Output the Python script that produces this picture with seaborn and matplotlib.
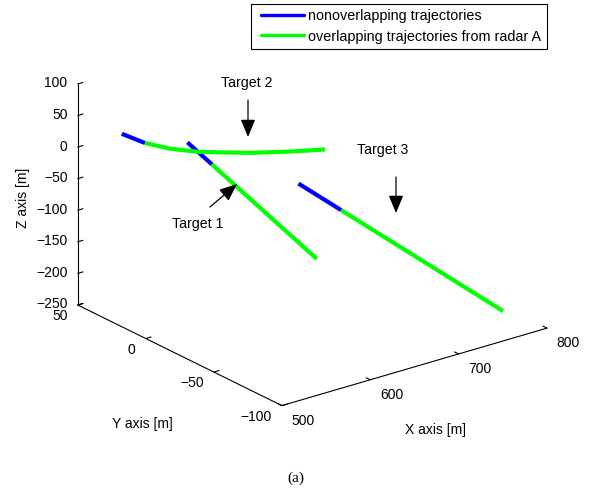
import matplotlib
matplotlib.use('Agg')
import numpy as np
import matplotlib.pyplot as plt
import seaborn as sns
from matplotlib.lines import Line2D
from matplotlib.legend_handler import HandlerLine2D
from matplotlib.patches import FancyArrowPatch
from matplotlib.transforms import ScaledTranslation
from mpl_toolkits.mplot3d import proj3d

sns.set_style('white')
plt.rcParams['font.family'] = ['Liberation Sans', 'DejaVu Sans']
plt.rcParams['font.size'] = 10
for k in ['text.color', 'axes.labelcolor', 'xtick.color', 'ytick.color']:
    plt.rcParams[k] = 'black'

# ---------------- data ----------------
# Target 1 (first `split` segment = nonoverlapping, rest = overlapping)
t1_x = [584.7, 604.8, 690.8]
t1_y = [24.4, 19.4, -1.8]
t1_z = [0.0, -37.8, -200.0]
t1_split = 1
# Target 2
t2_x = [541.4, 544.6, 554.2, 570.8, 605.1, 635.5, 663.3]
t2_y = [44.5, 29.5, 17.3, 6.1, -8.5, -18.2, -25.8]
t2_z = [10.0, 10.0, 10.0, 10.0, 10.0, 10.0, 10.0]
t2_split = 1
# Target 3
t3_x = [658.9, 681.3, 766.1]
t3_y = [-9.0, -25.9, -89.7]
t3_z = [-60.0, -93.4, -220.0]
t3_split = 1

x_ticks = [500, 600, 700, 800]
y_ticks = [-100, -50, 0, 50]
z_ticks = [-250, -200, -150, -100, -50, 0, 50, 100]
series_labels = ['nonoverlapping trajectories',
                 'overlapping trajectories from radar A']
target_names = ['Target 1', 'Target 2', 'Target 3']

blue, green = sns.color_palette(['#0000ff', '#00ff00'])

W, H = 591, 500
fig = plt.figure(figsize=(W / 100, H / 100), dpi=100, facecolor='white')
ax = fig.add_axes([0.0, 0.0, 1.0, 1.0], projection='3d', proj_type='ortho')
ax.set_facecolor('white')
ax.view_init(elev=22.3, azim=-127.6)
ax.set_box_aspect((1, 1, 0.714))

for xs, ys, zs, s in [(t1_x, t1_y, t1_z, t1_split),
                      (t2_x, t2_y, t2_z, t2_split),
                      (t3_x, t3_y, t3_z, t3_split)]:
    ax.plot(xs[:s + 1], ys[:s + 1], zs[:s + 1], color=blue, lw=3.0,
            solid_capstyle='butt')
    ax.plot(xs[s:], ys[s:], zs[s:], color=green, lw=3.0,
            solid_capstyle='butt')

ax.set_xlim(500, 800)
ax.set_ylim(-100, 50)
ax.set_zlim(-250, 100)
ax.set_xticks(x_ticks)
ax.set_yticks(y_ticks)
ax.set_zticks(z_ticks)
ax.grid(False)

for axis in (ax.xaxis, ax.yaxis, ax.zaxis):
    axis.pane.fill = False
    axis.pane.set_edgecolor('none')
    axis.line.set_color('black')
    axis.line.set_linewidth(0.8)
    axis._axinfo['tick']['inward_factor'] = 0.0
    axis._axinfo['tick']['outward_factor'] = 0.25
    axis.set_rotate_label(False)

ax.tick_params(axis='x', pad=1.0, labelsize=10)
ax.tick_params(axis='y', pad=-0.7, labelsize=10)
ax.tick_params(axis='z', pad=-3.8, labelsize=10)
ax.set_xlabel('X axis [m]', labelpad=12.9, fontsize=10, rotation=0)
ax.set_ylabel('Y axis [m]', labelpad=22.2, fontsize=10, rotation=0)
ax.set_zlabel('Z axis [m]', labelpad=2.1, fontsize=10, rotation=90)

# ---- fit the projected box onto the reference layout ----
fig.canvas.draw()


def to_px(pt):
    xs, ys, _ = proj3d.proj_transform(*pt, ax.get_proj())
    return np.array(ax.transData.transform((xs, ys)))


corner_left = (500, 50, -250)
corner_right = (800, -100, -250)
tgt_left = np.array([77.7, H - 305.0])
tgt_right = np.array([547.0, H - 329.0])
for _ in range(2):
    pl, pr = to_px(corner_left), to_px(corner_right)
    bb = ax.get_position()
    o = np.array([bb.x0 * W, bb.y0 * H])
    side = bb.width * W
    k = (tgt_right[0] - tgt_left[0]) / (pr[0] - pl[0])
    new_o = tgt_left - k * (pl - o)
    new_side = side * k
    ax.set_position([new_o[0] / W, new_o[1] / H, new_side / W, new_side / H])
    fig.canvas.draw()

# tick label alignment (MATLAB style)
for lab in ax.get_xticklabels():
    lab.set_ha('left')
    lab.set_va('center')
for lab in ax.get_yticklabels():
    lab.set_ha('right')
    lab.set_va('center')
for lab in ax.get_zticklabels():
    lab.set_ha('right')
    lab.set_va('center')


def nudge(label, dx, dy):
    """Shift an axis label by (dx, dy) pixels (dy positive = down)."""
    orig_draw = label.draw
    off = ScaledTranslation(dx / 100, -dy / 100, fig.dpi_scale_trans)

    def draw(renderer):
        label._transform = ax.transData + off
        orig_draw(renderer)

    label.draw = draw


nudge(ax.xaxis.label, -15, 7)
nudge(ax.yaxis.label, 22, 2)
nudge(ax.zaxis.label, 1, 6)

# ---- legend ----
handles = [Line2D([], [], color=blue, lw=2.4), Line2D([], [], color=green, lw=2.4)]
fig.legend(handles, series_labels, loc='upper right',
           bbox_to_anchor=(547 / W, 1 - 4 / H), bbox_transform=fig.transFigure,
           frameon=True, fancybox=False, edgecolor='black', framealpha=1,
           borderpad=0.38, handlelength=3.26, handletextpad=0.34,
           labelspacing=0.42, borderaxespad=0.0, fontsize=10.35,
           handler_map={Line2D: HandlerLine2D(xpad=0.28)})
fig.legends[0].get_frame().set_linewidth(0.8)


def fxy(u, v):
    return (u / W, 1 - v / H)


# ---- target annotations ----
text_pos = [(198, 224), (247, 83), (383, 150)]
arrow_from = [(210, 207), (248, 100), (396, 177)]
arrow_to = [(237, 184), (248, 137), (396, 213)]
for name, tp, a0, a1 in zip(target_names, text_pos, arrow_from, arrow_to):
    fig.text(*fxy(*tp), name, ha='center', va='center', fontsize=10.2)
    fig.add_artist(FancyArrowPatch(fxy(*a0), fxy(*a1), transform=fig.transFigure,
                                   arrowstyle='-|>,head_length=0.6,head_width=0.25',
                                   mutation_scale=18, lw=0.9, color='black',
                                   shrinkA=0, shrinkB=0))

fig.text(*fxy(296, 478), '(a)', ha='center', va='center', fontsize=11,
         family=['Liberation Serif', 'DejaVu Serif'])

fig.savefig('out.png', dpi=100, facecolor='white')
